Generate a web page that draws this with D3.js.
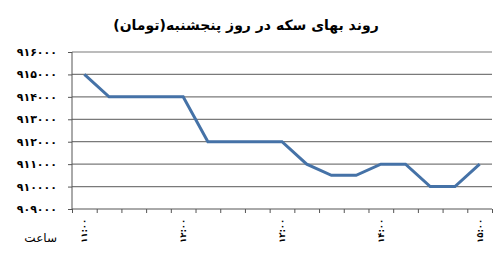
<!DOCTYPE html>
<meta charset="utf-8">
<script src="https://cdn.jsdelivr.net/npm/d3@7"></script>
<style>
body { margin: 0; background: #fff; }
text { font-family: "DejaVu Sans", sans-serif; fill: #000; }
</style>
<body>
<script>

var width = 500
var height = 267

// categories every 15 minutes, only the full hours are labelled
var times = ["۱۱:۰۰", "۱۱:۱۵", "۱۱:۳۰", "۱۱:۴۵",
             "۱۲:۰۰", "۱۲:۱۵", "۱۲:۳۰", "۱۲:۴۵",
             "۱۳:۰۰", "۱۳:۱۵", "۱۳:۳۰", "۱۳:۴۵",
             "۱۴:۰۰", "۱۴:۱۵", "۱۴:۳۰", "۱۴:۴۵",
             "۱۵:۰۰"]
var shownTimes = ["۱۱:۰۰", "۱۲:۰۰", "۱۳:۰۰", "۱۴:۰۰", "۱۵:۰۰"]

var prices = [915000, 914000, 914000, 914000, 914000, 912000, 912000, 912000, 912000,
              911000, 910500, 910500, 911000, 911000, 910000, 910000, 911000]

var yTicks = [909000, 910000, 911000, 912000, 913000, 914000, 915000, 916000]

var title = "روند بهای سکه در روز پنجشنبه(تومان)"
var xTitle = "ساعت"

var faDigits = "۰۱۲۳۴۵۶۷۸۹"
function toFa(n) { return String(n).replace(/[0-9]/g, function(d) { return faDigits[+d] }) }

var svg = d3.select("body").append("svg")
            .attr("width", width)
            .attr("height", height)

var x = d3.scaleLinear().domain([0, times.length]).range([72, 492])
var y = d3.scaleLinear().domain([909000, 916000]).range([209, 52])

// grid
svg.append("g")
   .selectAll("line")
   .data(yTicks.slice(1))
   .enter().append("line")
   .attr("x1", x(0))
   .attr("x2", x(times.length))
   .attr("y1", function(d) { return y(d) })
   .attr("y2", function(d) { return y(d) })
   .style("stroke", "#7a7a7a")
   .style("stroke-width", 1.2)

// y axis
var yAxis = svg.append("g")
   .attr("transform", "translate(" + x(0) + ",0)")
   .call(d3.axisLeft(y).tickValues(yTicks).tickSize(4).tickPadding(11).tickFormat(toFa))
yAxis.selectAll("text").style("font-size", "11px").style("font-weight", "bold")
yAxis.selectAll("line, path").style("stroke", "#555")
yAxis.select(".domain").attr("d", "M0," + y(916000) + "V" + y(909000))

// x axis, ticks on category boundaries
var xAxis = svg.append("g")
   .attr("transform", "translate(0," + y(909000) + ")")
   .call(d3.axisBottom(x).tickValues(d3.range(times.length + 1)).tickSize(4).tickFormat(""))
xAxis.selectAll("line, path").style("stroke", "#555")
xAxis.select(".domain").attr("d", "M" + x(0) + ",0H" + x(times.length))

// hour labels, rotated
svg.append("g")
   .selectAll("text")
   .data(times.map(function(t, i) { return {t: t, i: i} }).filter(function(d) { return shownTimes.indexOf(d.t) >= 0 }))
   .enter().append("text")
   .attr("transform", function(d) { return "translate(" + x(d.i + 0.5) + ",243) rotate(-90)" })
   .attr("dominant-baseline", "central")
   .style("text-anchor", "start")
   .style("font-size", "8.5px")
   .style("font-weight", "bold")
   .text(function(d) { return d.t })

svg.append("text")
   .attr("x", 57)
   .attr("y", 242)
   .style("text-anchor", "end")
   .style("font-size", "12px")
   .text(xTitle)

// line
var line = d3.line()
             .x(function(d, i) { return x(i + 0.5) })
             .y(function(d) { return y(d) })

svg.append("path")
   .attr("d", line(prices))
   .attr("fill", "none")
   .attr("stroke", "#4572a7")
   .attr("stroke-width", 3)
   .attr("stroke-linejoin", "miter")

svg.append("text")
   .attr("x", 246)
   .attr("y", 30)
   .style("direction", "rtl")
   .style("text-anchor", "middle")
   .style("font-size", "14px")
   .style("font-weight", "bold")
   .text(title)

</script>
</body>
